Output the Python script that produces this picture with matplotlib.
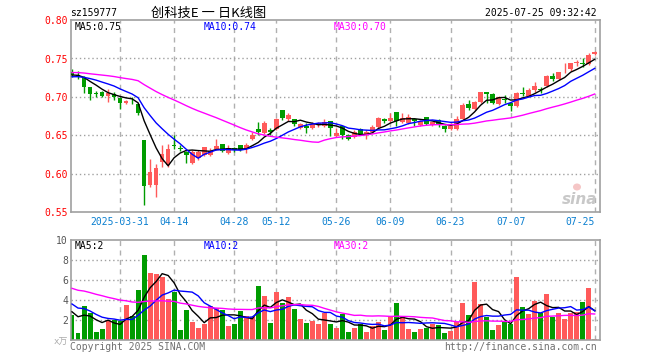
import matplotlib
matplotlib.use('Agg')
import matplotlib.pyplot as plt
import matplotlib.transforms as mtransforms
from matplotlib.patches import Ellipse
import numpy as np
import pandas as pd

# ---------------- data ----------------
open_ = [.7320, .7280, .7253, .7127, .7045, .7066, .7014, .7040, .6980, .6914,
         .6958, .6902, .6437, .5851, .5851, .6146, .6107, .6368, .6329, .6285,
         .6142, .6198, .6242, .6242, .6316, .6385, .6264, .6338, .6372, .6320,
         .6450, .6581, .6532, .6567, .6581, .6828, .6707, .6707, .6590, .6620,
         .6590, .6642, .6624, .6685, .6490, .6620, .6503, .6472, .6576, .6503,
         .6546, .6602, .6715, .6685, .6798, .6676, .6663, .6707, .6633, .6733,
         .6633, .6698, .6624, .6581, .6581, .6711, .6902, .6841, .6937, .7058,
         .7036, .6902, .6963, .6915, .6880, .7040, .7015, .7089, .7098, .7141,
         .7271, .7227, .7345, .7358, .7445, .7430, .7427, .7557]
high = [.7360, .7330, .7270, .7127, .7080, .7080, .7101, .7066, .7001, .6958,
        .7001, .6923, .6437, .6190, .6120, .6372, .6381, .6498, .6376, .6298,
        .6307, .6307, .6351, .6329, .6450, .6385, .6372, .6351, .6372, .6394,
        .6545, .6676, .6685, .6598, .6728, .6828, .6793, .6707, .6655, .6655,
        .6668, .6668, .6707, .6685, .6589, .6620, .6511, .6567, .6589, .6567,
        .6633, .6741, .6728, .6793, .6798, .6785, .6776, .6728, .6698, .6741,
        .6676, .6707, .6633, .6655, .6750, .6915, .6958, .6945, .7067, .7058,
        .7045, .7010, .7019, .6937, .7067, .7123, .7119, .7188, .7132, .7284,
        .7314, .7327, .7436, .7436, .7479, .7501, .7575, .7601]
low = [.7260, .7230, .7053, .6958, .6993, .6993, .6928, .6958, .6841, .6906,
       .6906, .6763, .5591, .5830, .5699, .6090, .6090, .6320, .6294, .6142,
       .6120, .6177, .6234, .6234, .6307, .6277, .6255, .6286, .6294, .6264,
       .6437, .6502, .6511, .6502, .6567, .6698, .6685, .6620, .6577, .6533,
       .6577, .6611, .6611, .6494, .6481, .6446, .6438, .6459, .6503, .6446,
       .6524, .6589, .6655, .6672, .6620, .6655, .6646, .6620, .6620, .6633,
       .6620, .6611, .6546, .6568, .6568, .6698, .6828, .6828, .6924, .6915,
       .6902, .6889, .6915, .6820, .6872, .7010, .7002, .7067, .7045, .7132,
       .7210, .7219, .7314, .7340, .7401, .7393, .7414, .7544]
close = [.7280, .7270, .7132, .7040, .7040, .7014, .7045, .7001, .6923, .6945,
         .6953, .6784, .5838, .6020, .6077, .6255, .6320, .6363, .6324, .6242,
         .6285, .6285, .6342, .6299, .6359, .6299, .6329, .6307, .6307, .6372,
         .6502, .6541, .6654, .6546, .6711, .6720, .6763, .6642, .6642, .6590,
         .6642, .6660, .6676, .6590, .6533, .6503, .6446, .6546, .6516, .6546,
         .6602, .6728, .6689, .6728, .6685, .6728, .6741, .6689, .6685, .6642,
         .6668, .6633, .6581, .6624, .6711, .6893, .6850, .6937, .7058, .7036,
         .6915, .6993, .6958, .6885, .7054, .7036, .7089, .7141, .7093, .7271,
         .7227, .7319, .7349, .7436, .7449, .7427, .7544, .7588]
volume = [2.50, 0.73, 3.40, 2.67, 0.83, 1.10, 1.93, 2.00, 1.93, 3.50,
          2.40, 5.00, 8.50, 6.73, 6.60, 6.33, 4.10, 4.80, 1.00, 3.00,
          1.83, 1.23, 1.60, 3.40, 3.17, 3.00, 1.40, 1.60, 2.90, 2.40,
          2.33, 5.43, 4.40, 1.73, 4.83, 3.67, 4.33, 3.10, 2.07, 1.73,
          1.93, 1.60, 2.67, 1.60, 1.23, 2.60, 0.83, 1.23, 1.57, 0.83,
          1.43, 1.83, 1.00, 2.40, 3.73, 2.40, 1.10, 0.83, 1.10, 1.23,
          1.60, 1.50, 0.67, 0.93, 1.83, 3.73, 2.50, 5.83, 3.60, 2.27,
          1.00, 1.50, 1.77, 1.60, 6.33, 3.33, 2.60, 3.93, 2.73, 4.60,
          2.33, 2.73, 2.10, 2.73, 2.83, 3.83, 5.23, 0.07]
# closes / volumes of the 29 sessions before the window (estimated from MA lines)
pre_close = [.728, .731, .733, .729, .727, .730, .732, .734, .731, .729, .730,
             .736, .739, .742, .744, .741, .738, .740, .737, .735,
             .726, .722, .720, .724, .727, .729, .727, .730, .728]
pre_volume = [6.5, 5.8, 7.2, 6.0, 5.4, 6.8, 5.9, 6.3, 5.5, 6.1, 5.9,
              6.2, 5.1, 6.6, 5.4, 5.9, 5.0, 6.3, 5.5, 5.6,
              4.8, 3.9, 5.1, 4.2, 3.9, 3.2, 2.6, 3.1, 2.7]

tick_labels = ['2025-03-31', '04-14', '04-28', '05-12', '05-26',
               '06-09', '06-23', '07-07', '07-25']
tick_index = [8, 17, 27, 34, 44, 53, 63, 73, 87]
price_ticks = [0.55, 0.60, 0.65, 0.70, 0.75, 0.80]
price_labels = ['0.55', '0.60', '0.65', '0.70', '0.75', '0.80']
vol_ticks = [2, 4, 6, 8, 10]
vol_labels = ['2', '4', '6', '8', '10']

code = 'sz159777'
title = '创科技E 一 日K线图'
stamp = '2025-07-25 09:32:42'
ma_price_text = ['MA5:0.75', 'MA10:0.74', 'MA30:0.70']
ma_vol_text = ['MA5:2', 'MA10:2', 'MA30:2']

# ---------------- styling ----------------
RED = '#ff5a5a'
GREEN = '#009c00'
MA_COLORS = ['#000000', '#0000ff', '#ff00ff']
MONO = 'DejaVu Sans Mono'
plt.rcParams['font.family'] = [MONO, 'Noto Sans CJK SC']

o = np.array(open_); h = np.array(high); l = np.array(low); c = np.array(close)
v = np.array(volume)
n = len(c)
x = np.arange(n)
up = c >= o
cols = np.where(up, RED, GREEN)

full_c = pd.Series(np.r_[pre_close, c])
full_v = pd.Series(np.r_[pre_volume, v])
npre = len(pre_close)
ma_p = [full_c.rolling(k).mean().values[npre:] for k in (5, 10, 30)]
ma_v = [full_v.rolling(k).mean().values[npre:] for k in (5, 10, 30)]

W, H = 660, 360
fig = plt.figure(figsize=(W / 100, H / 100), dpi=100)
fig.patch.set_facecolor('white')

L, R = 71, 600
ax1 = fig.add_axes([L / W, 1 - 212 / H, (R - L) / W, 192 / H])
ax2 = fig.add_axes([L / W, 1 - 340 / H, (R - L) / W, 100 / H])

xlim = (-0.17, 87.88)
for ax in (ax1, ax2):
    ax.set_xlim(*xlim)
    ax.set_xticks([]); ax.set_yticks([])
    for s in ax.spines.values():
        s.set_color('#a0a0a0'); s.set_linewidth(1.2)
    for p in tick_index:
        ax.axvline(p, color='#b0b0b0', lw=1.0, ls=(0, (3.6, 3.2)), zorder=0)

ax1.set_ylim(0.55, 0.80)
ax2.set_ylim(0, 10)
for t in price_ticks[1:-1]:
    ax1.axhline(t, color='#a0a0a0', lw=1.0, ls=(0, (1, 2)), zorder=0)
for t in vol_ticks[:-1]:
    ax2.axhline(t, color='#a0a0a0', lw=1.0, ls=(0, (1, 2)), zorder=0)

# candles
ax1.vlines(x, l, h, colors=cols, lw=1.0, zorder=2)
body_bot = np.minimum(o, c)
body_h = np.maximum(np.abs(c - o), 0.0007)
ax1.bar(x, body_h, bottom=body_bot, width=0.78, color=cols, lw=0, zorder=3)
for m, col in zip(ma_p, MA_COLORS):
    ax1.plot(x, m, color=col, lw=1.0, zorder=4)

# volume
ax2.bar(x, v, width=0.82, color=cols, lw=0, zorder=2)
for m, col in zip(ma_v, MA_COLORS):
    ax2.plot(x, m, color=col, lw=1.0, zorder=4)

# y labels
for t, s in zip(price_ticks, price_labels):
    ax1.annotate(s, (0, t), xycoords=('axes fraction', 'data'), xytext=(-3, -1.2),
                 textcoords='offset pixels', ha='right', va='center',
                 color='#ff0000', fontsize=7, family=MONO)
for t, s in zip(vol_ticks, vol_labels):
    ax2.annotate(s, (0, t), xycoords=('axes fraction', 'data'), xytext=(-3, -1.2),
                 textcoords='offset pixels', ha='right', va='center',
                 color='#555555', fontsize=7, family=MONO)
fig.text(68 / W, 1 - 342 / H, 'x万', ha='right', va='center', color='#aaaaaa',
         fontsize=6.5, family=[MONO, 'Noto Sans CJK SC'])

# date labels
trans = mtransforms.blended_transform_factory(ax1.transData, ax1.transAxes)
for i, (p, s) in enumerate(zip(tick_index, tick_labels)):
    ha = 'right' if i == len(tick_index) - 1 else 'center'
    ax1.text(p, -0.052, s, transform=trans, ha=ha, va='center',
             color='#0a7fd0', fontsize=7, family=MONO)

# MA legends
for s, col, xp in zip(ma_price_text, MA_COLORS, (75, 204, 334)):
    fig.text(xp / W, 1 - 27 / H, s, color=col, fontsize=7, family=MONO,
             ha='left', va='center')
for s, col, xp in zip(ma_vol_text, MA_COLORS, (75, 204, 334)):
    fig.text(xp / W, 1 - 246 / H, s, color=col, fontsize=7, family=MONO,
             ha='left', va='center')

# header
fig.text(70 / W, 1 - 13 / H, code, color='black', fontsize=7, family=MONO,
         ha='left', va='center')
fig.text(209 / W, 1 - 13 / H, title, color='black', fontsize=9.5,
         family=['Noto Sans CJK SC', MONO], ha='center', va='center')
fig.text(597 / W, 1 - 13 / H, stamp, color='black', fontsize=7, family=MONO,
         ha='right', va='center')

# footer
fig.text(70 / W, 1 - 347 / H, 'Copyright 2025 SINA.COM', color='#707070',
         fontsize=7, family=MONO, ha='left', va='center')
fig.text(597 / W, 1 - 347 / H, 'http://finance.sina.com.cn', color='#707070',
         fontsize=7, family=MONO, ha='right', va='center')

# watermark (logo eye drawn as a shape, word as text)
fig.patches.append(Ellipse((577 / W, 1 - 187 / H), 8 / W, 7 / H,
                           transform=fig.transFigure, facecolor='#f4c0c0',
                           edgecolor='none', alpha=0.9))
fig.text(580 / W, 1 - 199 / H, 'sina', color='#c8c8c8', fontsize=11,
         fontweight='bold', style='italic', family='DejaVu Sans',
         ha='center', va='center')

fig.savefig('out.png', dpi=100)
